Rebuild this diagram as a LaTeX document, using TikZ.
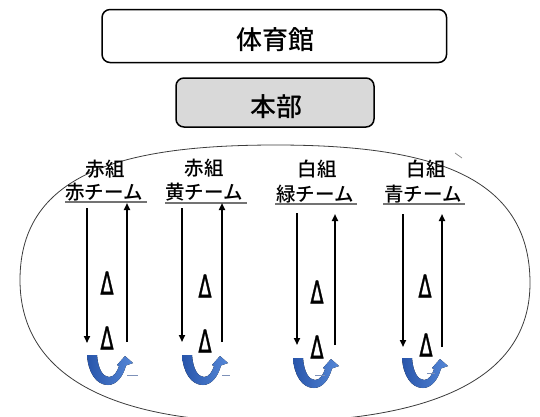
\documentclass[tikz,border=0pt]{standalone}
\usepackage{fontspec}
\usepackage{graphicx}
\setmainfont{Noto Sans CJK JP Medium}
\newfontfamily\dejavu{DejaVu Sans}[FakeBold=1.5]
\usetikzlibrary{arrows.meta}
\definecolor{boxgray}{RGB}{217,217,217}
\definecolor{ublue}{RGB}{40,85,170}
\definecolor{ubluel}{RGB}{85,135,215}
\definecolor{ovalgray}{RGB}{60,60,60}
\definecolor{ghost}{RGB}{125,145,185}
\tikzset{
  bigbox/.style={draw=black, line width=1.5pt, rounded corners=8pt},
  title/.style={font=\fontsize{26}{28}\selectfont, inner sep=0pt},
  head/.style={font=\fontsize{19.5}{22}\selectfont, inner sep=0pt},
  cone/.style={font=\dejavu\fontsize{31}{33}\selectfont, inner sep=0pt},
  runline/.style={line width=1.7pt, -{Triangle[length=7pt,width=6pt]}},
  uline/.style={line width=1.6pt, draw=black!55},
  uturn/.style={left color=ublue, right color=ubluel, draw=none},
  oval/.style={draw=ovalgray, line width=0.8pt},
  faint/.style={draw=ghost, line width=0.8pt},
}
\newcommand\uturnat[2]{%
  \begin{scope}[shift={(#1,#2)}]
    \fill[uturn] (0,0) -- (10,0) .. controls (11,14) and (16,22) .. (22,22)
      .. controls (27,22) and (30,17) .. (32,11) -- (30,10) -- (38,1) -- (46,8) -- (39,10.5)
      .. controls (36,22) and (29,30) .. (21,30)
      .. controls (9,30) and (1,17) .. (0,0) -- cycle;
  \end{scope}}
\begin{document}
\begin{tikzpicture}[x=1pt,y=-1pt]
\useasboundingbox (0,0) rectangle (540,416);
% oval
\draw[oval] (20,280) .. controls (20,170) and (130,145) .. (276,145)
  .. controls (430,145) and (530,175) .. (530,283)
  .. controls (530,380) and (430,420) .. (276,422)
  .. controls (120,424) and (20,380) .. (20,280) -- cycle;
\draw[draw=black!45, line width=0.8pt] (455,153) -- (462,158);
% top boxes
\node[bigbox, minimum width=344.5pt, minimum height=53pt] (gymbox) at (274.3,36) {};
\node[title] (gym) at (275,40) {体育館};
\node[bigbox, fill=boxgray, minimum width=198pt, minimum height=49pt] (hqbox) at (275,102.5) {};
\node[title] (hq) at (276,107) {本部};
% headers
\node[head] (g1) at (105,169) {赤組};
\node[head] (t1) at (104,192) {赤チーム};
\node[head] (g2) at (204,168) {赤組};
\node[head] (t2) at (204,192) {黄チーム};
\node[head] (g3) at (317,169) {白組};
\node[head] (t3) at (315,194) {緑チーム};
\node[head] (g4) at (426,169) {白組};
\node[head] (t4) at (423,194) {青チーム};
\draw[uline] (65,202) -- (147,202);
\draw[uline] (165,203) -- (247,203);
\draw[uline] (275,204) -- (357,204);
\draw[uline] (383,204) -- (465,204);
% run lines
\coordinate (d1a) at (87,208);  \coordinate (d1b) at (87,343);
\coordinate (u1a) at (127,342); \coordinate (u1b) at (127,203);
\coordinate (d2a) at (182,208); \coordinate (d2b) at (182,342);
\coordinate (u2a) at (222,342); \coordinate (u2b) at (222,203);
\coordinate (d3a) at (297,213); \coordinate (d3b) at (297,345);
\coordinate (u3a) at (335,345); \coordinate (u3b) at (335,214);
\coordinate (d4a) at (403,214); \coordinate (d4b) at (403,347);
\coordinate (u4a) at (442,347); \coordinate (u4b) at (442,214);
\foreach \k in {1,2,3,4}{
  \draw[runline] (d\k a) -- (d\k b);
  \draw[runline] (u\k a) -- (u\k b);
}
% cones
\node[cone] (c1a) at (107,283) {\scalebox{0.62}[1]{Δ}};
\node[cone] (c1b) at (107,338) {\scalebox{0.62}[1]{Δ}};
\node[cone] (c2a) at (205,286) {\scalebox{0.62}[1]{Δ}};
\node[cone] (c2b) at (205,341) {\scalebox{0.62}[1]{Δ}};
\node[cone] (c3a) at (317,292) {\scalebox{0.62}[1]{Δ}};
\node[cone] (c3b) at (317,347) {\scalebox{0.62}[1]{Δ}};
\node[cone] (c4a) at (425,286) {\scalebox{0.62}[1]{Δ}};
\node[cone] (c4b) at (426,345) {\scalebox{0.62}[1]{Δ}};
% u-turns
\uturnat{87}{355}
\uturnat{182}{355}
\uturnat{293}{358}
\uturnat{402}{358}
\draw[faint] (127,375) -- (138,375);
\draw[faint] (222,375) -- (230,375);
\draw[faint] (315,375) -- (325,375);
\draw[faint] (427,373) -- (435,373);
\end{tikzpicture}
\end{document}
